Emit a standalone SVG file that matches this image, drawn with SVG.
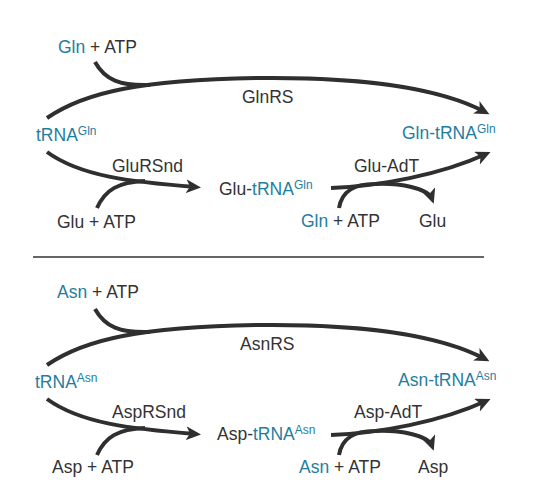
<svg xmlns="http://www.w3.org/2000/svg" width="542" height="487" viewBox="0 0 542 487">
<defs>
<style>
.t{font-family:"Liberation Sans",Arial,Helvetica,sans-serif;font-size:17.5px;fill:#333333}
.b{fill:#1f7e9e}
.s{font-size:12px}
.c{fill:none;stroke:#2f2f2f;stroke-width:4}
.a{marker-end:url(#ah)}
</style>
<marker id="ah" markerWidth="16" markerHeight="14" refX="10" refY="7" orient="auto" markerUnits="userSpaceOnUse">
<path d="M0,0 L15,7 L0,14 L4,7 Z" fill="#2f2f2f"/>
</marker>
</defs>
<rect width="542" height="487" fill="#ffffff"/>
<g id="connectors">
<path class="c a" d="M47,118 C85,92 140,80 260,78 C360,77 440,88 485,112"/>
<path class="c" d="M95,62 C105,80 120,86 150,85"/>
<path class="c a" d="M47,152 C80,176 130,182 196,187"/>
<path class="c" d="M97,208 C105,190 118,182 145,181"/>
<path class="c a" d="M331,188 C380,186 440,175 486,154"/>
<path class="c a" d="M339,208 C342,190 355,184 375,184 C400,183 428,188 432,199"/>
<line x1="33" y1="257" x2="484" y2="257" stroke="#333333" stroke-width="1.6"/>
<path class="c a" d="M47,365 C85,339 140,327 260,325 C360,324 440,335 485,359"/>
<path class="c" d="M95,309 C105,327 120,333 150,332"/>
<path class="c a" d="M47,399 C80,423 130,429 196,434"/>
<path class="c" d="M97,455 C105,437 118,429 145,428"/>
<path class="c a" d="M331,435 C380,433 440,422 486,401"/>
<path class="c a" d="M339,455 C342,437 355,431 375,431 C400,430 428,435 432,446"/>
</g>
<g id="gln-atp-top"><text class="t" x="58" y="53"><tspan class="b">Gln</tspan> + ATP</text></g>
<g id="glnrs"><text class="t" x="242" y="103">GlnRS</text></g>
<g id="trna-gln"><text class="t b" x="36" y="141">tRNA<tspan class="s" dy="-6">Gln</tspan></text></g>
<g id="glursnd"><text class="t" x="112" y="172">GluRSnd</text></g>
<g id="glu-atp"><text class="t" x="57" y="228">Glu + ATP</text></g>
<g id="glu-trna-gln"><text class="t" x="219" y="195">Glu-<tspan class="b">tRNA</tspan><tspan class="b s" dy="-6">Gln</tspan></text></g>
<g id="gln-trna-gln"><text class="t b" x="402" y="139">Gln-tRNA<tspan class="s" dy="-6">Gln</tspan></text></g>
<g id="glu-adt"><text class="t" x="354" y="172">Glu-AdT</text></g>
<g id="gln-atp-bottom"><text class="t" x="301" y="227"><tspan class="b">Gln</tspan> + ATP</text></g>
<g id="glu"><text class="t" x="419" y="227">Glu</text></g>
<g id="asn-atp-top"><text class="t" x="57" y="298"><tspan class="b">Asn</tspan> + ATP</text></g>
<g id="asnrs"><text class="t" x="240" y="350">AsnRS</text></g>
<g id="trna-asn"><text class="t b" x="35" y="388">tRNA<tspan class="s" dy="-6">Asn</tspan></text></g>
<g id="asprsnd"><text class="t" x="112" y="418">AspRSnd</text></g>
<g id="asp-atp"><text class="t" x="52" y="473">Asp + ATP</text></g>
<g id="asp-trna-asn"><text class="t" x="217" y="440">Asp-<tspan class="b">tRNA</tspan><tspan class="b s" dy="-6">Asn</tspan></text></g>
<g id="asn-trna-asn"><text class="t b" x="398" y="386">Asn-tRNA<tspan class="s" dy="-6">Asn</tspan></text></g>
<g id="asp-adt"><text class="t" x="354" y="418">Asp-AdT</text></g>
<g id="asn-atp-bottom"><text class="t" x="299" y="473"><tspan class="b">Asn</tspan> + ATP</text></g>
<g id="asp"><text class="t" x="418" y="473">Asp</text></g>
</svg>
